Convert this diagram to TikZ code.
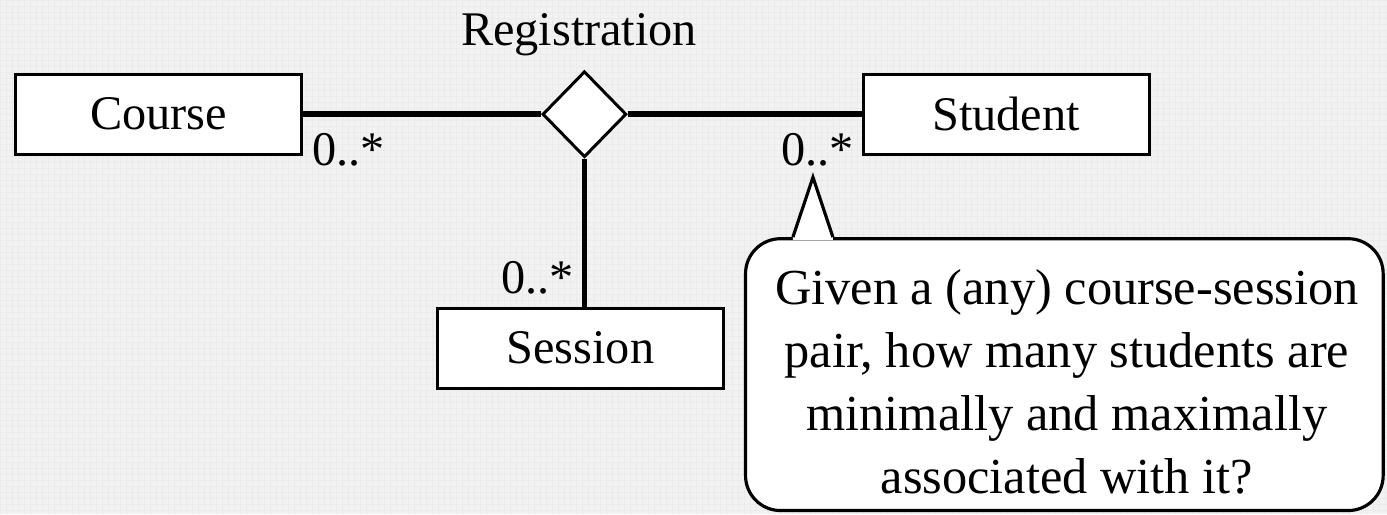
\documentclass[tikz,border=0pt]{standalone}
\usepackage{fontspec}
\setmainfont{Liberation Serif}
\usetikzlibrary{shapes.geometric, positioning}

\begin{document}
\begin{tikzpicture}[x=0.02cm,y=-0.02cm,
    every node/.style={font=\fontsize{27.5}{35.9}\selectfont},
    classbox/.style={draw,line width=1.7pt,fill=white,minimum width=5.72cm,minimum height=1.6cm,inner sep=0pt},
    relation/.style={diamond,draw,line width=1.7pt,fill=white,minimum width=1.68cm,minimum height=1.72cm,inner sep=0pt},
    link/.style={line width=3.2pt},
    mult/.style={inner sep=0pt},
    note/.style={draw,line width=1.8pt,fill=white,rounded corners=0.7cm,minimum width=12.76cm,minimum height=5.44cm,inner sep=0pt}]
    % background
    \fill[black!5] (0,0) rectangle (1387,514);
    \draw[black!8,line width=0.3pt,step=0.12cm] (0,0) grid (1387,514);
    \useasboundingbox (0,0) rectangle (1387,514);

    \node[classbox] (course) at (158.5,114) {Course};
    \node[relation] (reg) [right=4.76cm of course] {};
    \node[classbox] (student) [right=4.68cm of reg] {Student};
    \node[classbox] (session) [below=2.96cm of reg, xshift=-0.08cm] {Session};
    \node[anchor=base] (reglbl) at (579,45) {Registration};

    \draw[link] (course) -- (reg);
    \draw[link] (reg) -- (student);
    \draw[link] (reg.south) -- (reg.south |- session.north);

    \node[mult,anchor=base west] (mcourse) at (312,165) {0..*};
    \node[mult,anchor=base west] (mstudent) at (781,165) {0..*};
    \node[mult,anchor=base west] (msession) at (501,293) {0..*};

    % the note and its pointer
    \node[note] (note) at (1064.5,374.5) {};
    \node[align=center,inner sep=0pt,font=\fontsize{28.7}{35.9}\selectfont] (notetext) at (1067,382) {Given a (any) course-session\\pair, how many students are\\minimally and maximally\\associated with it?};
    \coordinate (tip) at (813,177);
    \fill[white] ([xshift=0.98cm,yshift=-1.5pt]note.north west) -- ([xshift=0.98cm]note.north west) -- (tip)
        -- ([xshift=1.78cm]note.north west) -- ([xshift=1.78cm,yshift=-1.5pt]note.north west) -- cycle;
    \draw[line width=1.8pt,line join=miter] ([xshift=0.98cm]note.north west) -- (tip) -- ([xshift=1.78cm]note.north west);
\end{tikzpicture}
\end{document}
